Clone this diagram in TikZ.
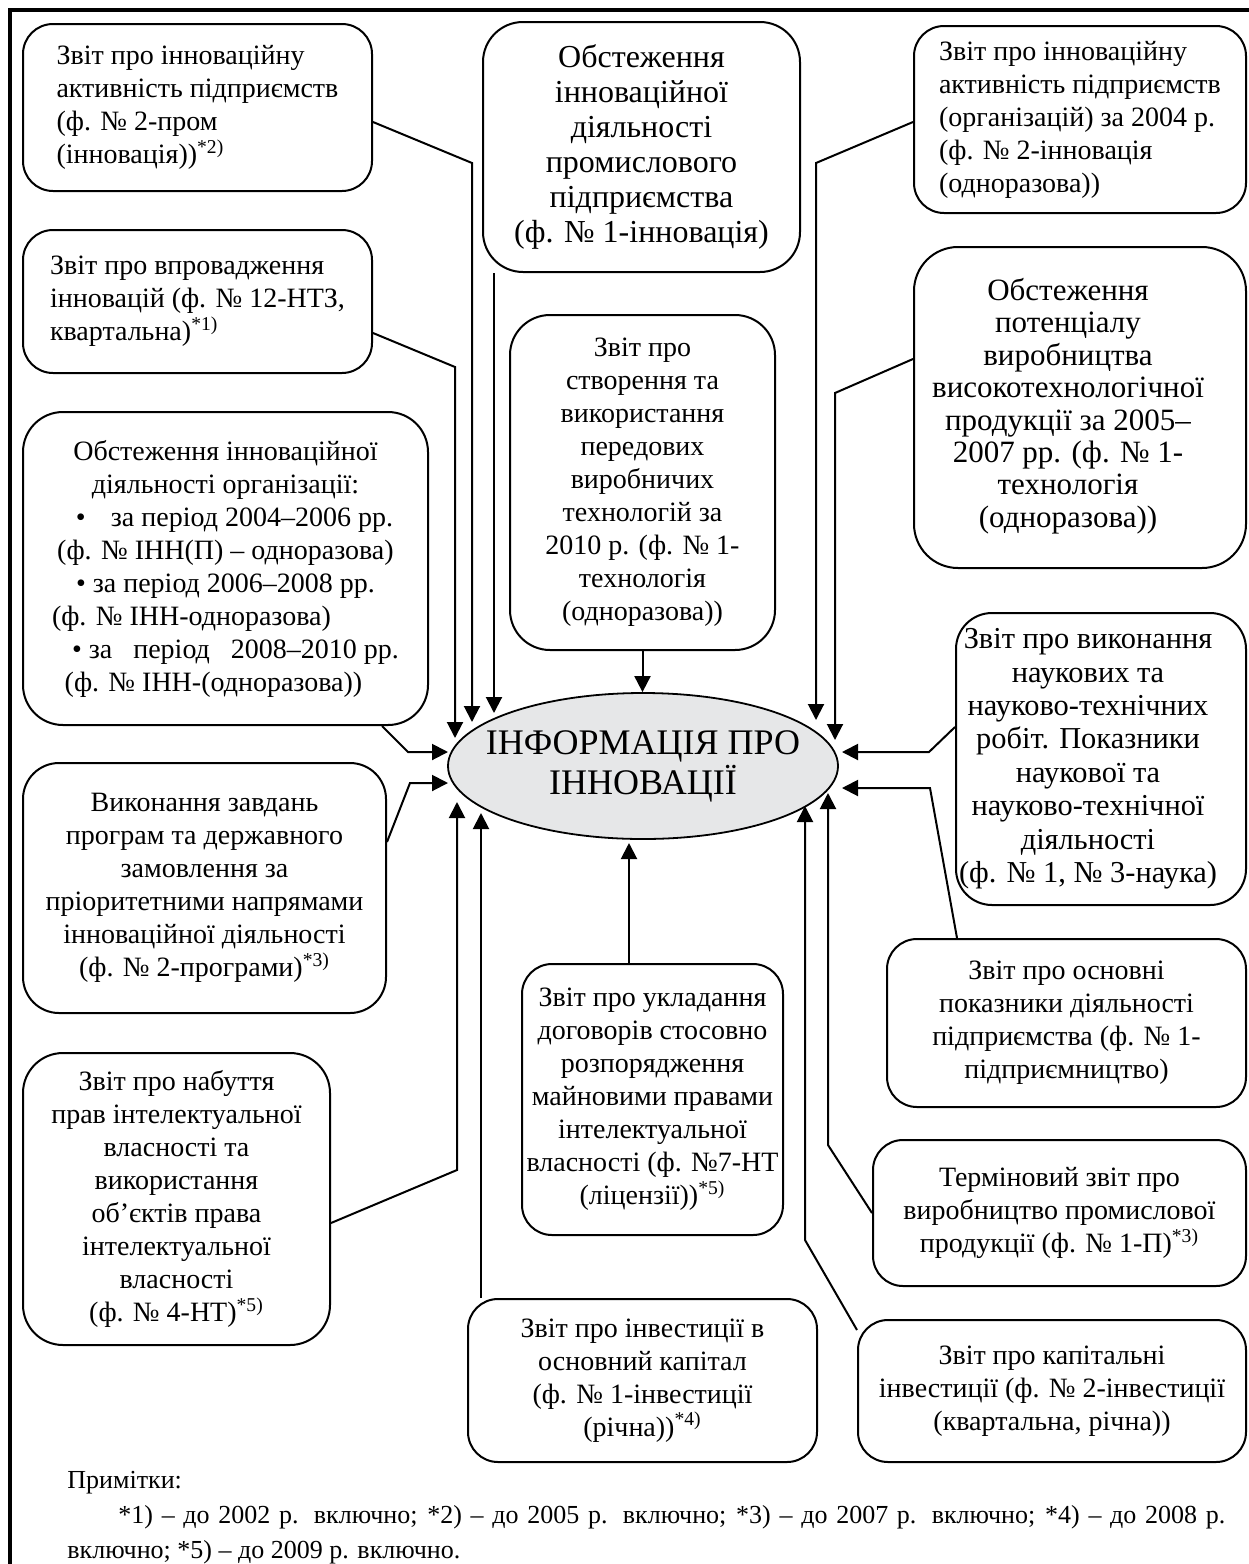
\documentclass[tikz,border=0pt]{standalone}
\usepackage{fontspec}
\setmainfont{Liberation Serif}
\usetikzlibrary{arrows.meta,shapes.geometric,calc}
\definecolor{ellfill}{RGB}{230,231,232}
\begin{document}
\begin{tikzpicture}[x=0.5pt,y=-0.5pt,
  box/.style={draw, line width=1pt, rounded corners=15pt, inner sep=0pt, align=center,
              font=\fontsize{14}{16.5}\selectfont},
  tbox/.style={draw, line width=1pt, rounded corners=15pt, inner sep=0pt},
  lbox/.style={box, align=left},
  ell/.style={ellipse, draw, line width=0.9pt, fill=ellfill, minimum width=195pt,
              minimum height=73pt, inner sep=0pt},
  arr/.style={line width=1pt, -{Triangle[length=8pt,width=8pt]}}]
\useasboundingbox (0,0) rectangle (1248,1564);
\draw[line width=1.6pt] (10,10) rectangle (1280,1600);

% left column
\node[lbox, minimum width=174.5pt, minimum height=83.5pt] (B1) at (197.5,107.5)
  {Звіт про інноваційну\\активність підприємств\\(ф. № 2-пром\\(інновація))\textsuperscript{*2)}};
\node[lbox, minimum width=174.5pt, minimum height=71.5pt] (B2) at (197.5,301.5)
  {Звіт про впровадження\\інновацій (ф. № 12-НТЗ,\\квартальна)\textsuperscript{*1)}};
\node[box, rounded corners=20pt, minimum width=202.5pt, minimum height=156.5pt] (B3) at (225.5,568.5)
  {Обстеження інноваційної\\діяльності організації:\\
   \hspace*{9pt}\textbullet\hspace{0.9em}за період 2004–2006 рр.\\
   (ф. № ІНН(П) – одноразова)\\
   \textbullet\ за період 2006–2008 рр.\\
   \hspace*{-34pt}(ф. № ІНН-одноразова)\\
   \hspace*{10pt}\textbullet\ за\hspace{0.5em} період\hspace{0.5em} 2008–2010 рр.\\
   \hspace*{-12pt}(ф. № ІНН-(одноразова))};
\node[box, rounded corners=18pt, minimum width=181.5pt, minimum height=125pt] (B4) at (204.5,888)
  {Виконання завдань\\програм та державного\\замовлення за\\пріоритетними напрямами\\інноваційної діяльності\\(ф. № 2-програми)\textsuperscript{*3)}};
\node[box, rounded corners=20pt, minimum width=153.5pt, minimum height=146pt] (B5) at (176.5,1199)
  {Звіт про набуття\\прав інтелектуальної\\власності та\\використання\\об’єктів права\\інтелектуальної\\власності\\(ф. № 4-НТ)\textsuperscript{*5)}};

% centre column
\node[box, rounded corners=20pt, minimum width=158.5pt, minimum height=125pt,
      font=\fontsize{16}{17.5}\selectfont] (B6) at (641.5,147)
  {Обстеження\\інноваційної\\діяльності\\промислового\\підприємства\\(ф. № 1-інновація)};
\node[box, rounded corners=20pt, minimum width=132.5pt, minimum height=167.5pt] (B7) at (642.5,482.5)
  {Звіт про\\створення та\\використання\\передових\\виробничих\\технологій за\\2010 р. (ф. № 1-\\технологія\\(одноразова))};
\node[box, minimum width=130.5pt, minimum height=135.5pt] (B14) at (652.5,1099.5)
  {Звіт про укладання\\договорів стосовно\\розпорядження\\майновими правами\\інтелектуальної\\власності (ф. №7-НТ\\(ліцензії))\textsuperscript{*5)}};
\node[box, minimum width=174.5pt, minimum height=81.5pt] (B15) at (642.5,1380.5)
  {Звіт про інвестиції в\\основний капітал\\(ф. № 1-інвестиції\\(річна))\textsuperscript{*4)}};

% right column
\node[lbox, minimum width=166pt, minimum height=93.5pt] (B8) at (1080,119.5)
  {Звіт про інноваційну\\активність підприємств\\(організацій) за 2004 р.\\(ф. № 2-інновація\\(одноразова))};
\node[tbox, rounded corners=22pt, minimum width=166pt, minimum height=160.5pt,
      font=\fontsize{15.5}{16.2}\selectfont] (B9) at (1080,407.5)
  {\begin{tabular}{@{}c@{}}Обстеження\\потенціалу\\виробництва\\високотехнологічної\\продукції за 2005–\\2007 рр. (ф. № 1-\\технологія\\(одноразова))\end{tabular}\hspace*{12pt}};
\node[tbox, rounded corners=18pt, minimum width=145pt, minimum height=146pt,
      font=\fontsize{15.2}{16.7}\selectfont] (B10) at (1101,759)
  {\begin{tabular}{@{}c@{}}Звіт про виконання\\наукових та\\науково-технічних\\робіт. Показники\\наукової та\\науково-технічної\\діяльності\\(ф. № 1, № 3-наука)\end{tabular}\hspace*{13pt}};
\node[box, minimum width=179.5pt, minimum height=84pt] (B11) at (1066.5,1023)
  {Звіт про основні\\показники діяльності\\підприємства (ф. № 1-\\підприємництво)};
\node[box, minimum width=186.5pt, minimum height=73pt] (B12) at (1059.5,1213)
  {Терміновий звіт про\\виробництво промислової\\продукції (ф. № 1-П)\textsuperscript{*3)}};
\node[box, minimum width=194pt, minimum height=71pt] (B13) at (1052,1391)
  {Звіт про капітальні\\інвестиції (ф. № 2-інвестиції\\(квартальна, річна))};

% central ellipse
\node[ell] (E) at (643,766) {};
\node[align=center, inner sep=0pt, font=\fontsize{18}{20}\selectfont] (Et) at (E.center)
  {ІНФОРМАЦІЯ ПРО\\ІННОВАЦІЇ};

% arrow tips
\coordinate (t1) at (472,722);
\coordinate (t2) at (455,738);
\coordinate (t3) at (494,713);
\coordinate (t4) at (448,752);
\coordinate (t5) at (448,783);
\coordinate (t6) at (457,802);
\coordinate (t7) at (481,813);
\coordinate (t8) at (629,843);
\coordinate (t10) at (816,720);
\coordinate (t11) at (835,740);
\coordinate (t12) at (842,752);
\coordinate (t13) at (842,788);
\coordinate (t14) at (828,793);
\coordinate (t15) at (805,806);

% connectors
\draw[arr] (B1.east |- 0,122) -- (472,163) -- (t1);
\draw[arr] (B2.east |- 0,333) -- (455,367) -- (t2);
\draw[arr] (494,0 |- B6.south) -- (t3);
\draw[arr] (382,0 |- B3.south) -- (408,752) -- (t4);
\draw[arr] (B4.east |- 0,842) -- (410,783) -- (t5);
\draw[arr] (B5.east |- 0,1223) -- (457,1170) -- (t6);
\draw[arr] (481,0 |- B15.north) -- (t7);
\draw[arr] (629,0 |- B14.north) -- (t8);
\draw[arr] (B7.south) -- (B7.south |- E.north);
\draw[arr] (B8.west |- 0,122) -- (816,163) -- (t10);
\draw[arr] (B9.west |- 0,359) -- (835,393) -- (t11);
\draw[arr] (B10.west |- 0,727) -- (929,752) -- (t12);
\draw[arr] (957,0 |- B11.north) -- (930,788) -- (t13);
\draw[arr] (B12.west |- 0,1213) -- (828,1145) -- (t14);
\draw[arr] (B13.west |- 0,1330) -- (805,1240) -- (t15);

% notes
\node[anchor=base west, text width=579pt, align=justify, inner sep=0pt,
      font=\fontsize{13}{17.5}\selectfont] (notes) at (67,1488)
  {Примітки:\\\hspace*{25.5pt}*1) – до 2002 р. включно; *2) – до 2005 р. включно; *3) – до 2007 р. включно; *4) – до 2008~р.\linebreak
   включно; *5) – до 2009 р. включно.};
\end{tikzpicture}
\end{document}
